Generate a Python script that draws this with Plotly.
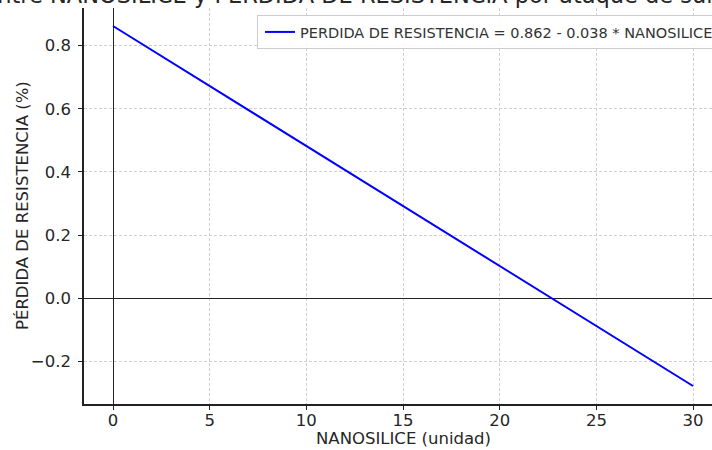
import plotly.graph_objects as go

# Data (regression line endpoints)
nanosilice = [0, 30]
perdida = [0.862, -0.278]
x_ticks = [0, 5, 10, 15, 20, 25, 30]
y_ticks = [-0.2, 0.0, 0.2, 0.4, 0.6, 0.8]
legend_label = "PERDIDA DE RESISTENCIA = 0.862 - 0.038 * NANOSILICE"
title_text = "Relación entre NANOSILICE y PÉRDIDA DE RESISTENCIA por ataque de sulfato de magnesio"

FONT = "DejaVu Sans"

fig = go.Figure()
fig.add_trace(go.Scatter(
    x=nanosilice, y=perdida, mode="lines",
    line=dict(color="#0000ff", width=2),
    name=legend_label,
))

W, H = 712, 450
L, R, T, B = 84, 0, 8, 46
PW, PH = W - L - R, H - T - B

GRID = dict(showgrid=True, gridcolor="#cfcfcf", griddash="3px,2px", gridwidth=0.8,
            zeroline=True, zerolinecolor="#222222", zerolinewidth=1,
            showline=True, linecolor="#222222", linewidth=1.5,
            ticks="outside", ticklen=4, tickcolor="#222222", automargin=False,
            tickfont=dict(family=FONT, size=16.5, color="#262626"))

fig.update_layout(
    width=W, height=H,
    margin=dict(l=L, r=R, t=T, b=B, pad=0, autoexpand=False),
    paper_bgcolor="white", plot_bgcolor="white",
    font=dict(family=FONT, size=16, color="#262626"),
    showlegend=True,
    legend=dict(
        x=(257 - L) / PW, y=(H - B - 15) / PH,
        xanchor="left", yanchor="top", indentation=2,
        bgcolor="rgba(255,255,255,0.85)", bordercolor="#cccccc", borderwidth=1,
        font=dict(family=FONT, size=14.5, color="#333333"),
    ),
    xaxis=dict(range=[-1.5, 30.98], tickmode="array", tickvals=x_ticks,
               ticklabelstandoff=-4, **GRID),
    yaxis=dict(range=[-0.335, 0.919], tickmode="array", tickvals=y_ticks,
               tickformat=".1f", ticklabelstandoff=4, **GRID),
)

# Axis titles
fig.add_annotation(
    text="NANOSILICE (unidad)", xref="x", yref="paper",
    x=15, y=(404 - 438) / PH, xanchor="center", yanchor="middle",
    showarrow=False, font=dict(family=FONT, size=16.5, color="#262626"),
)
fig.add_annotation(
    text="PÉRDIDA DE RESISTENCIA (%)", xref="paper", yref="paper",
    x=(22 - L) / PW, y=0.5, xanchor="center", yanchor="middle",
    textangle=-90, showarrow=False, font=dict(family=FONT, size=16.5, color="#262626"),
)
# Title (cut off at top of the image, as in the reference)
fig.add_annotation(
    text=title_text, xref="x", yref="paper",
    x=15, y=1, xanchor="center", yanchor="bottom", yshift=-2, xshift=-8,
    showarrow=False, font=dict(family=FONT, size=22.5, color="#262626"),
)

fig.write_html(
    "out.html",
    config={"displayModeBar": False},
    post_script="document.body.style.margin='0';document.body.style.overflow='hidden';",
)
